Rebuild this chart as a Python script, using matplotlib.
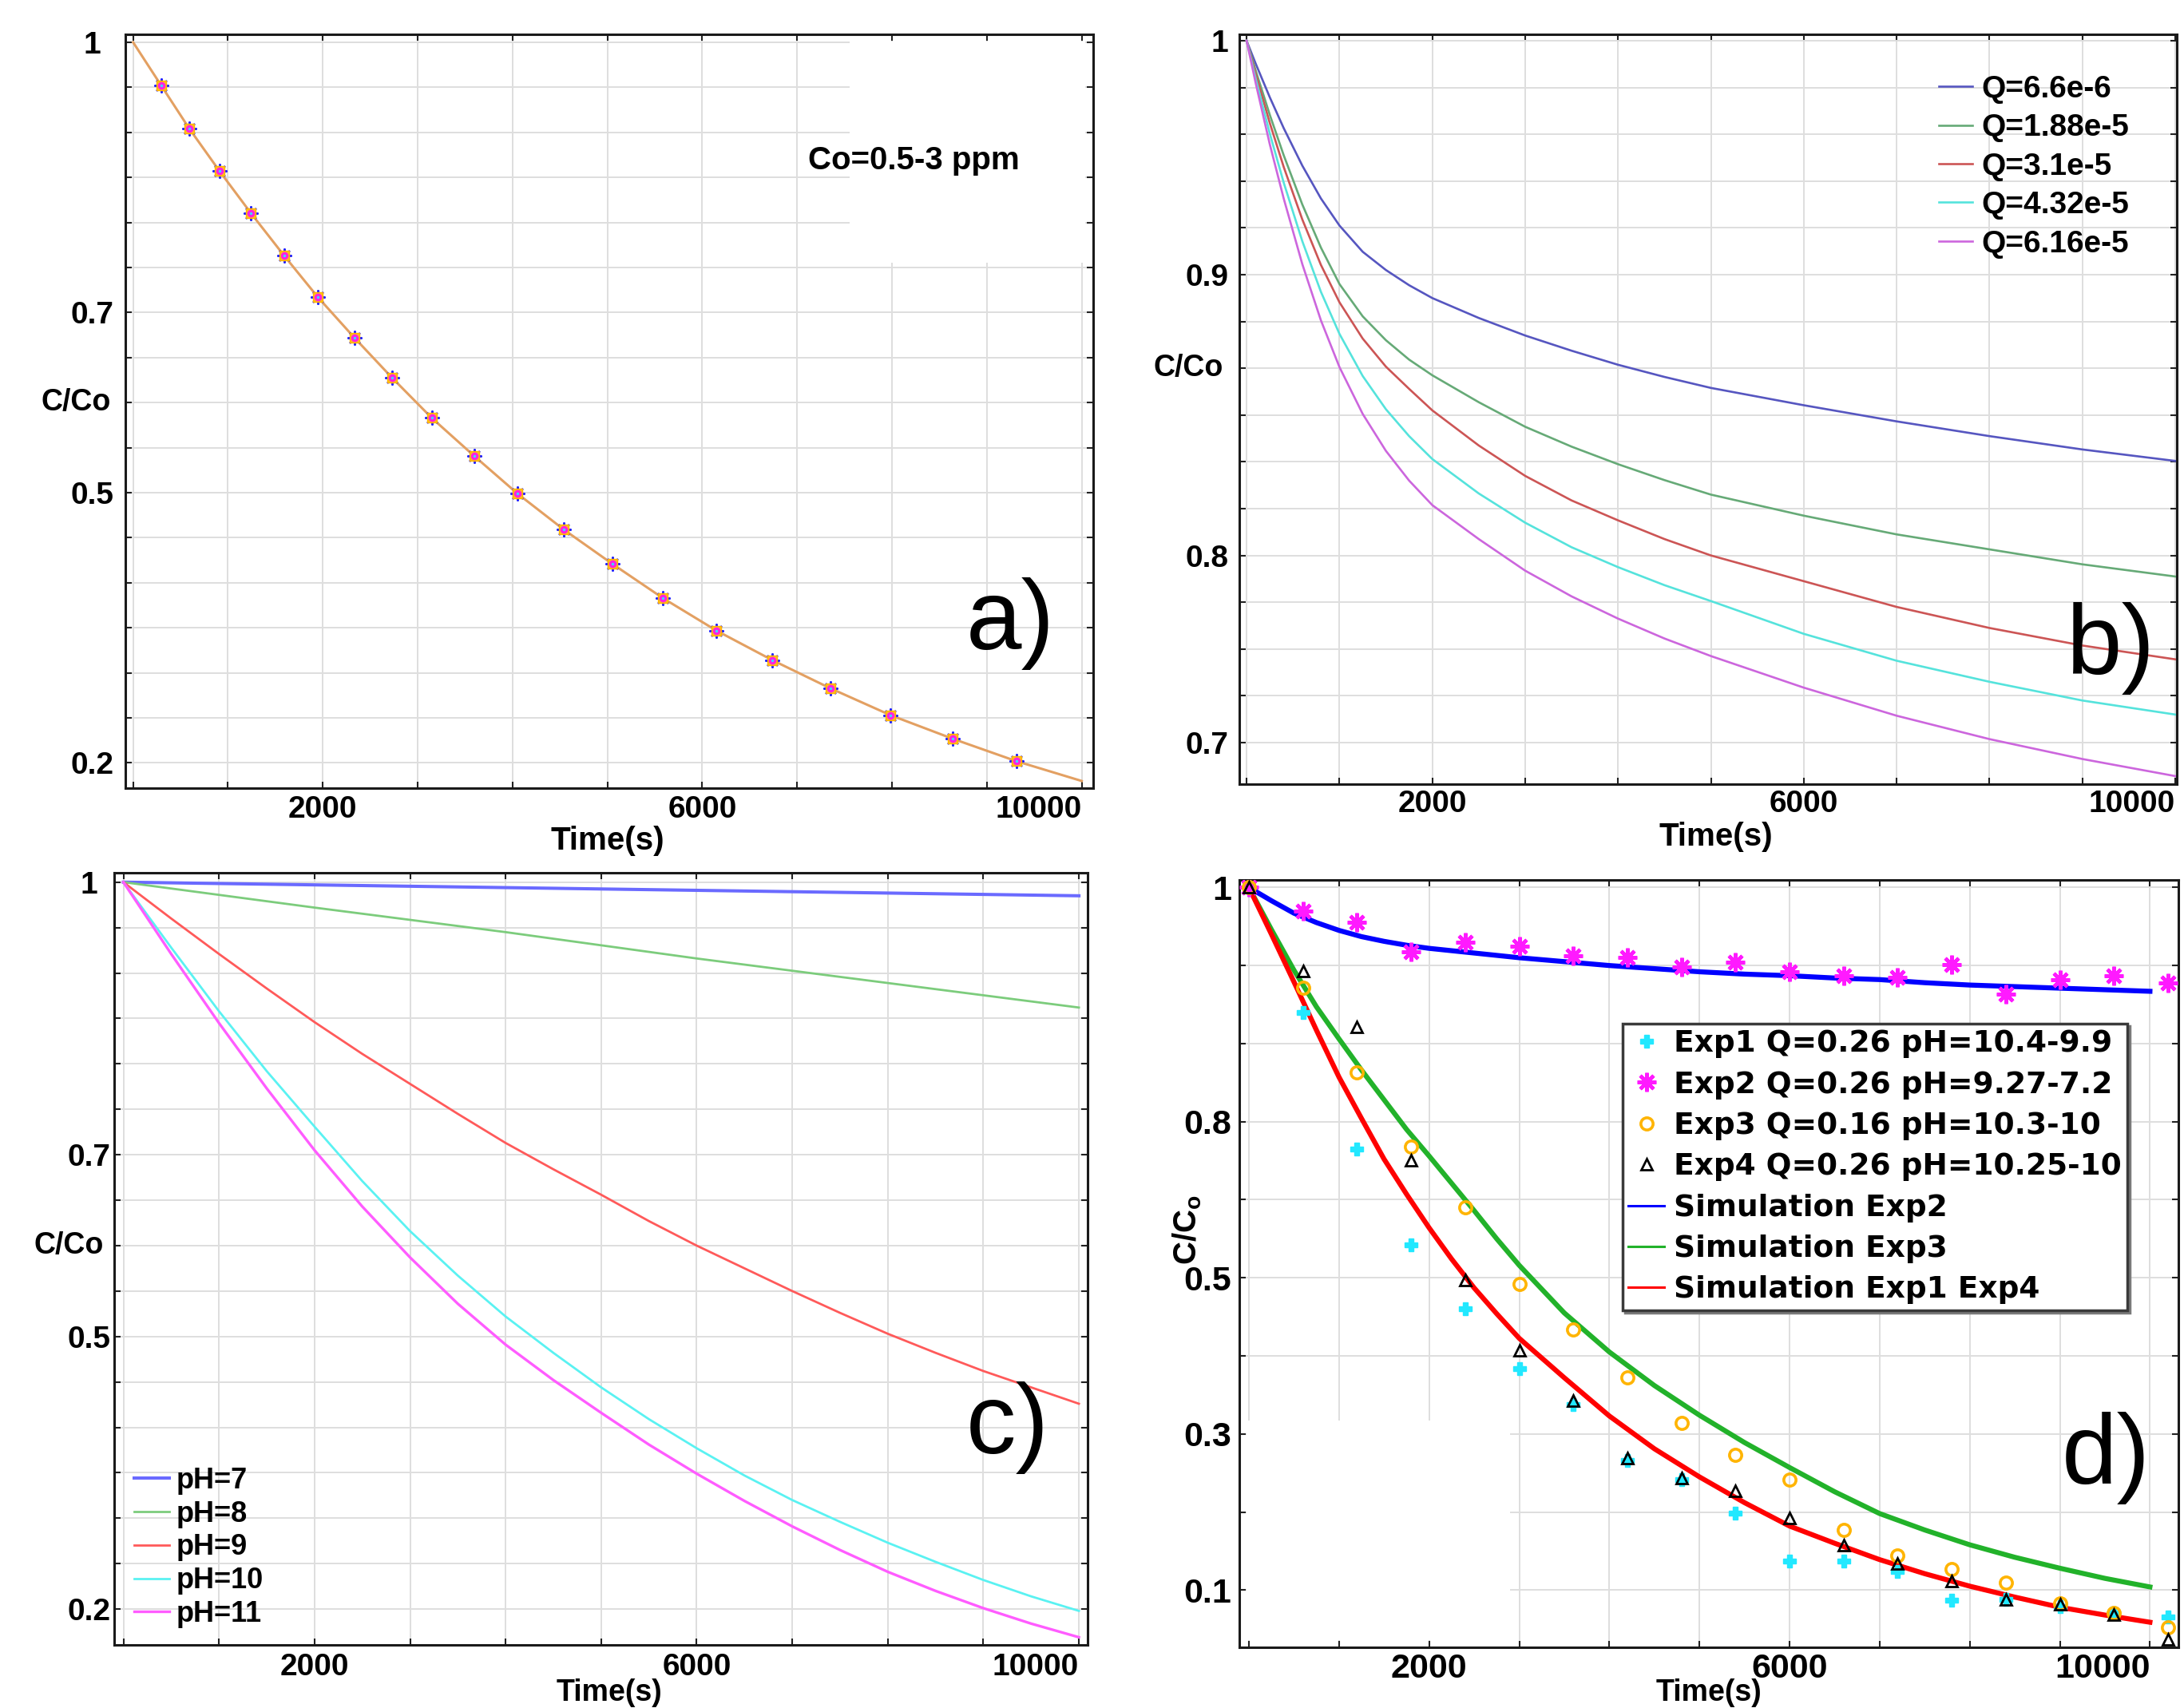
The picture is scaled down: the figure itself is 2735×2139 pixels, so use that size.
import matplotlib
matplotlib.use("Agg")
import matplotlib.pyplot as plt
from matplotlib.patches import Rectangle

plt.rcParams["mathtext.fontset"] = "custom"
plt.rcParams["mathtext.rm"] = "Liberation Sans"
plt.rcParams["mathtext.bf"] = "Liberation Sans:bold"
plt.rcParams["mathtext.it"] = "Liberation Sans:italic"

# ---------------- shared axis data ----------------
time_ticks = [0, 1000, 2000, 3000, 4000, 5000, 6000, 7000, 8000, 9000, 10000]
time_ticklabels = ["", "", "2000", "", "", "", "6000", "", "", "", "10000"]

# ---------------- panel a ----------------
a_time = [0, 296, 593, 911, 1244, 1593, 1948, 2333, 2726, 3148, 3593, 4052,
          4541, 5052, 5585, 6148, 6741, 7348, 7985, 8637, 9311, 10000]
a_ratio = [1.0, 0.952, 0.904, 0.857, 0.810, 0.763, 0.717, 0.672, 0.628, 0.583,
           0.541, 0.499, 0.459, 0.421, 0.383, 0.347, 0.314, 0.283, 0.253,
           0.227, 0.202, 0.180]
a_yticks = [0.2, 0.25, 0.3, 0.35, 0.4, 0.45, 0.5, 0.55, 0.6, 0.65, 0.7,
            0.75, 0.8, 0.85, 0.9, 0.95, 1.0]
a_yticklabels = ["0.2", "", "", "", "", "", "0.5", "", "", "", "0.7",
                 "", "", "", "", "", "1"]
a_note = "Co=0.5-3 ppm"

# ---------------- panel b ----------------
b_time = [0, 100, 250, 400, 600, 800, 1000, 1250, 1500, 1750, 2000, 2500,
          3000, 3500, 4000, 4500, 5000, 6000, 7000, 8000, 9000, 10000]
b_q66 = [1.0, 0.990, 0.9758, 0.9626, 0.9466, 0.9326, 0.921, 0.9098, 0.902,
         0.8955, 0.890, 0.8815, 0.874, 0.8675, 0.8615, 0.8563, 0.8516,
         0.8442, 0.8373, 0.831, 0.8253, 0.8204]
b_q188 = [1.0, 0.987, 0.9683, 0.951, 0.930, 0.9116, 0.896, 0.8822, 0.872,
          0.8637, 0.857, 0.8455, 0.835, 0.8265, 0.819, 0.8122, 0.806, 0.797,
          0.789, 0.7826, 0.7762, 0.771]
b_q31 = [1.0, 0.9855, 0.9648, 0.946, 0.9236, 0.9042, 0.8882, 0.8727, 0.8607,
         0.8512, 0.842, 0.827, 0.814, 0.8035, 0.795, 0.787, 0.780, 0.769,
         0.758, 0.749, 0.7415, 0.7356]
b_q432 = [1.0, 0.9835, 0.9603, 0.9393, 0.9143, 0.8927, 0.8747, 0.8567,
          0.8425, 0.831, 0.8212, 0.8065, 0.794, 0.7835, 0.775, 0.7673, 0.7605,
          0.7465, 0.735, 0.726, 0.718, 0.712]
b_q616 = [1.0, 0.9815, 0.9557, 0.9325, 0.9045, 0.8805, 0.8605, 0.8405,
          0.8247, 0.812, 0.8015, 0.787, 0.7735, 0.7625, 0.753, 0.7445, 0.737,
          0.7235, 0.7115, 0.7015, 0.693, 0.6857]
b_labels = ["Q=6.6e-6", "Q=1.88e-5", "Q=3.1e-5", "Q=4.32e-5", "Q=6.16e-5"]
b_yticks = [0.70, 0.72, 0.74, 0.76, 0.78, 0.80, 0.82, 0.84, 0.86, 0.88,
            0.90, 0.92, 0.94, 0.96, 0.98, 1.00]
b_yticklabels = ["0.7", "", "", "", "0.8", "", "", "", "", "",
                 "0.9", "", "", "", "", "1"]

# ---------------- panel c ----------------
c_time_lin = [0, 2000, 4000, 6000, 8000, 10000]
c_ph7 = [1.0, 0.997, 0.994, 0.991, 0.988, 0.985]
c_ph8 = [1.0, 0.972, 0.945, 0.916, 0.889, 0.862]
c_time = [0, 500, 1000, 1500, 2000, 2500, 3000, 3500, 4000, 4500, 5000, 5500,
          6000, 6500, 7000, 7500, 8000, 8500, 9000, 9500, 10000]
c_ph9 = [1.0, 0.960, 0.921, 0.883, 0.846, 0.811, 0.778, 0.745, 0.713, 0.684,
         0.656, 0.627, 0.600, 0.575, 0.550, 0.526, 0.503, 0.482, 0.462,
         0.444, 0.426]
c_ph10 = [1.0, 0.928, 0.858, 0.792, 0.731, 0.671, 0.616, 0.567, 0.522, 0.482,
          0.444, 0.409, 0.377, 0.347, 0.320, 0.296, 0.273, 0.252, 0.232,
          0.214, 0.198]
c_ph11 = [1.0, 0.921, 0.845, 0.773, 0.705, 0.643, 0.587, 0.536, 0.491, 0.452,
          0.416, 0.381, 0.349, 0.319, 0.291, 0.265, 0.241, 0.220, 0.201,
          0.184, 0.169]
c_labels = ["pH=7", "pH=8", "pH=9", "pH=10", "pH=11"]

# ---------------- panel d ----------------
d_exp_time = [0, 600, 1200, 1800, 2400, 3000, 3600, 4200, 4800, 5400, 6000,
              6600, 7200, 7800, 8400, 9000, 9600, 10200]
d_exp1 = [1.0, 0.840, 0.665, 0.542, 0.460, 0.384, 0.338, 0.266, 0.241, 0.199,
          0.1375, 0.1375, 0.124, 0.087, 0.088, 0.0793, 0.0711, 0.0657]
d_exp2 = [1.0, 0.970, 0.955, 0.9176, 0.930, 0.925, 0.9126, 0.9106, 0.8977,
          0.904, 0.892, 0.887, 0.885, 0.9015, 0.863, 0.8817, 0.887, 0.878]
d_exp3 = [1.0, 0.872, 0.763, 0.668, 0.590, 0.492, 0.4335, 0.372, 0.314,
          0.273, 0.241, 0.177, 0.144, 0.127, 0.110, 0.0834, 0.071, 0.0527]
d_exp4 = [1.0, 0.893, 0.821, 0.651, 0.497, 0.4076, 0.343, 0.269, 0.244,
          0.227, 0.192, 0.158, 0.134, 0.112, 0.0882, 0.0814, 0.0691, 0.0369]
d_sim_time = [0, 250, 500, 750, 1000, 1250, 1500, 1750, 2000, 2250, 2500,
              2750, 3000, 3500, 4000, 4500, 5000, 5500, 6000, 6500, 7000,
              7500, 8000, 8500, 9000, 9500, 10000]
d_sim_exp2 = [1.0, 0.983, 0.967, 0.955, 0.945, 0.937, 0.931, 0.926, 0.922,
              0.919, 0.916, 0.913, 0.910, 0.905, 0.900, 0.896, 0.892, 0.889,
              0.887, 0.884, 0.882, 0.878, 0.875, 0.873, 0.871, 0.869, 0.867]
d_sim_exp3 = [1.0, 0.946, 0.894, 0.847, 0.806, 0.766, 0.728, 0.690, 0.656,
              0.621, 0.586, 0.550, 0.516, 0.455, 0.405, 0.362, 0.324, 0.289,
              0.257, 0.226, 0.198, 0.177, 0.158, 0.142, 0.128, 0.115, 0.104]
d_sim_exp14 = [1.0, 0.940, 0.879, 0.817, 0.757, 0.704, 0.652, 0.607, 0.564,
               0.524, 0.487, 0.454, 0.4225, 0.372, 0.323, 0.281, 0.245, 0.212,
               0.182, 0.160, 0.139, 0.121, 0.105, 0.091, 0.078, 0.068, 0.0588]
d_labels = ["Exp1 Q=0.26 pH=10.4-9.9", "Exp2 Q=0.26 pH=9.27-7.2",
            "Exp3 Q=0.16 pH=10.3-10", "Exp4 Q=0.26 pH=10.25-10",
            "Simulation Exp2", "Simulation Exp3", "Simulation Exp1 Exp4"]
d_yticks = [0.1, 0.2, 0.3, 0.4, 0.5, 0.6, 0.7, 0.8, 0.9, 1.0]
d_yticklabels = ["0.1", "", "0.3", "", "0.5", "", "0.8", "", "", "1"]

# ---------------- figure ----------------
fig = plt.figure(figsize=(27.35, 21.39), dpi=100)
fig.patch.set_facecolor("white")

ax_a = fig.add_axes([0.0573, 0.5388, 0.4431, 0.4412])
ax_b = fig.add_axes([0.5673, 0.5411, 0.4294, 0.4389])
ax_c = fig.add_axes([0.0523, 0.0369, 0.4456, 0.4521])
ax_d = fig.add_axes([0.5676, 0.0355, 0.4298, 0.4493])

SANS = "Liberation Sans"
DJV = "DejaVu Sans"


def style(ax, xlim, ylim, yticks, yticklabels, tsize, xpad, ypad, yha):
    ax.set_xlim(*xlim)
    ax.set_ylim(*ylim)
    ax.set_xticks(time_ticks)
    ax.set_xticklabels(time_ticklabels)
    ax.set_yticks(yticks)
    ax.set_yticklabels(yticklabels)
    ax.set_axisbelow(True)
    ax.grid(True, color="#dedede", lw=1.4)
    ax.tick_params(axis="both", direction="in", length=6, width=1.5,
                   top=True, right=True, color="#222222")
    ax.tick_params(axis="x", pad=xpad)
    ax.tick_params(axis="y", pad=ypad)
    for lab in ax.get_xticklabels() + ax.get_yticklabels():
        lab.set_fontfamily(SANS)
        lab.set_fontweight("bold")
        lab.set_fontsize(tsize)
    for lab in ax.get_yticklabels():
        lab.set_horizontalalignment(yha)
    ax.get_xticklabels()[-1].set_horizontalalignment("right")
    for s in ax.spines.values():
        s.set_linewidth(2.2)
        s.set_color("#1a1a1a")


# ---------- panel a ----------
style(ax_a, (-84, 10118), (0.1725, 1.009), a_yticks, a_yticklabels, 28, 7, 30, "center")
ax_a.add_patch(Rectangle((7556, 0.755), 10040 - 7556, 1.001 - 0.755,
                         facecolor="white", edgecolor="none", zorder=0.8))
ax_a.plot(a_time, a_ratio, color="#e3a062", lw=2.2, zorder=2)
mt, mr = a_time[1:-1], a_ratio[1:-1]
ax_a.plot(mt, mr, ls="none", marker=(8, 2, 0), ms=13, mec="#2020ff", mew=1.6, zorder=3)
ax_a.plot(mt, mr, ls="none", marker="s", ms=9, mfc="#ffc21a", mec="#ffb000", mew=1, zorder=4)
ax_a.plot(mt, mr, ls="none", marker="o", ms=6, mfc="#ff22dd", mec="#ff22dd", zorder=5)
ax_a.plot(mt, mr, ls="none", marker=".", ms=3, color="#40d8ff", zorder=6)
ax_a.text(0.7058, 0.8206, a_note, transform=ax_a.transAxes, family=SANS,
          fontweight="bold", fontsize=29, ha="left", va="baseline")
ax_a.text(0.869, 0.1837, "a)", transform=ax_a.transAxes, family=SANS,
          fontsize=90, ha="left", va="baseline")
ax_a.set_xlabel("Time(s)", family=SANS, fontweight="bold", fontsize=29)
ax_a.xaxis.set_label_coords(0.4985, -0.0504)
ax_a.set_ylabel("C/Co", family=SANS, fontweight="bold", fontsize=27,
                rotation=0, ha="right", va="center")
ax_a.yaxis.set_label_coords(-0.0146, 0.511)

# ---------- panel b ----------
style(ax_b, (-82, 10017), (0.6824, 1.0028), b_yticks, b_yticklabels, 28, 5, 9.7, "right")
b_colors = ["#5656c0", "#66aa77", "#cc5555", "#55e3dc", "#cc66dd"]
for ys, col, lab in zip([b_q66, b_q188, b_q31, b_q432, b_q616], b_colors, b_labels):
    ax_b.plot(b_time, ys, color=col, lw=1.9, label=lab)
ax_b.legend(loc="upper left", bbox_to_anchor=(0.746, 0.9457), frameon=False,
            borderpad=0, borderaxespad=0, handlelength=1.1, handletextpad=0.28,
            labelspacing=0.32, prop={"family": SANS, "weight": "bold", "size": 28})
ax_b.text(0.8825, 0.1467, "b)", transform=ax_b.transAxes, family=SANS,
          fontsize=90, ha="left", va="baseline")
ax_b.set_xlabel("Time(s)", family=SANS, fontweight="bold", fontsize=29)
ax_b.xaxis.set_label_coords(0.5087, -0.0506)
ax_b.set_ylabel("C/Co", family=SANS, fontweight="bold", fontsize=27,
                rotation=0, ha="right", va="center")
ax_b.yaxis.set_label_coords(-0.017, 0.5543)

# ---------- panel c ----------
style(ax_c, (-96, 10089), (0.1605, 1.0103), a_yticks, a_yticklabels, 28, 7, 22.6, "center")
ax_c.plot(c_time_lin, c_ph7, color="#6a6aff", lw=2.9, label=c_labels[0])
ax_c.plot(c_time_lin, c_ph8, color="#7ccc7c", lw=2.0, label=c_labels[1])
ax_c.plot(c_time, c_ph9, color="#ff5a5a", lw=2.0, label=c_labels[2])
ax_c.plot(c_time, c_ph10, color="#5af2f2", lw=2.0, label=c_labels[3])
ax_c.plot(c_time, c_ph11, color="#ff5cff", lw=2.4, label=c_labels[4])
ax_c.legend(loc="upper left", bbox_to_anchor=(0.0205, 0.231), frameon=False,
            borderpad=0, borderaxespad=0, handlelength=1.22, handletextpad=0.24,
            labelspacing=0.19, prop={"family": SANS, "weight": "bold", "size": 26})
ax_c.text(0.8755, 0.248, "c)", transform=ax_c.transAxes, family=SANS,
          fontsize=90, ha="left", va="baseline")
ax_c.set_xlabel("Time(s)", family=SANS, fontweight="bold", fontsize=27,
                va="bottom")
ax_c.xaxis.set_label_coords(0.509, -0.0805)
ax_c.set_ylabel("C/Co", family=SANS, fontweight="bold", fontsize=27,
                rotation=0, ha="right", va="center")
ax_c.yaxis.set_label_coords(-0.011, 0.517)

# ---------- panel d ----------
style(ax_d, (-103, 10315), (0.0266, 1.0096), d_yticks, d_yticklabels, 31, 5, 7.5, "right")
ax_d.add_patch(Rectangle((-23, 0.036), 2900 + 23, 0.317 - 0.036,
                         facecolor="white", edgecolor="none", zorder=0.8))
h1, = ax_d.plot(d_exp_time, d_exp1, ls="none", marker="P", ms=11,
                mfc="#22e8ff", mec="#22e8ff", zorder=4)
h2, = ax_d.plot(d_exp_time, d_exp2, ls="none", marker=(8, 2, 0), ms=17,
                mec="#ff1aff", mew=3.2, zorder=4)
h3, = ax_d.plot(d_exp_time, d_exp3, ls="none", marker="o", ms=11,
                mfc="none", mec="#ffb400", mew=2.6, zorder=4)
h4, = ax_d.plot(d_exp_time, d_exp4, ls="none", marker="^", ms=10,
                mfc="none", mec="black", mew=2.0, zorder=5)
h5, = ax_d.plot(d_sim_time, d_sim_exp2, color="#0000ff", lw=4.5, zorder=3)
h6, = ax_d.plot(d_sim_time, d_sim_exp3, color="#22b22a", lw=4.5, zorder=3)
h7, = ax_d.plot(d_sim_time, d_sim_exp14, color="#ff0000", lw=4.5, zorder=3)
leg = ax_d.legend([h1, h2, h3, h4, h5, h6, h7], d_labels, loc="upper left",
                  bbox_to_anchor=(0.408, 0.813), borderaxespad=0, borderpad=0.2,
                  handlelength=1.2, handletextpad=0.3, labelspacing=0.41,
                  fancybox=False, shadow={"color": "#7a7a7a", "alpha": 1},
                  framealpha=1, edgecolor="#3a3a3a",
                  prop={"family": DJV, "weight": "bold", "size": 27})
leg.get_frame().set_linewidth(2.5)
for line in leg.get_lines()[4:]:
    line.set_linewidth(2.2)
ax_d.text(0.8756, 0.2133, "d)", transform=ax_d.transAxes, family=SANS,
          fontsize=90, ha="left", va="baseline")
ax_d.set_xlabel("Time(s)", family=SANS, fontweight="bold", fontsize=27,
                va="bottom")
ax_d.xaxis.set_label_coords(0.50, -0.0775)
ax_d.set_ylabel(r"$\mathbf{C/C_o}$", fontsize=29, rotation=90,
                ha="center", va="center")
ax_d.yaxis.set_label_coords(-0.0557, 0.544)

fig.savefig("out.png", dpi=100, facecolor="white")
